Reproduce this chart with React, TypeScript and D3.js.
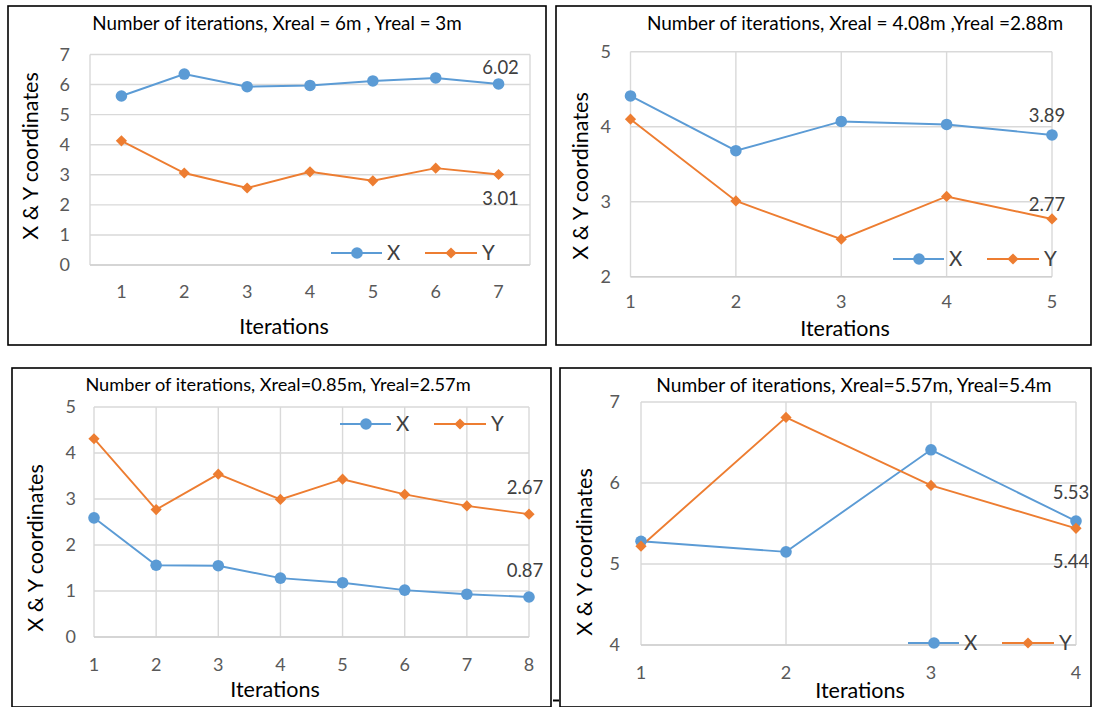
import React from "react";
import * as d3 from "d3";

// ---------- DATA ----------
const iterA = [1, 2, 3, 4, 5, 6, 7];
const xA = [5.62, 6.35, 5.93, 5.97, 6.12, 6.22, 6.02];
const yA = [4.13, 3.06, 2.56, 3.1, 2.8, 3.22, 3.01];
const yTicksA = [0, 1, 2, 3, 4, 5, 6, 7];
const titleA = "Number of iterations, Xreal = 6m , Yreal = 3m";

const iterB = [1, 2, 3, 4, 5];
const xB = [4.41, 3.68, 4.07, 4.03, 3.89];
const yB = [4.1, 3.01, 2.5, 3.07, 2.77];
const yTicksB = [2, 3, 4, 5];
const titleB = "Number of iterations, Xreal = 4.08m ,Yreal =2.88m";

const iterC = [1, 2, 3, 4, 5, 6, 7, 8];
const xC = [2.59, 1.56, 1.55, 1.28, 1.18, 1.02, 0.93, 0.87];
const yC = [4.31, 2.77, 3.54, 2.99, 3.43, 3.1, 2.85, 2.67];
const yTicksC = [0, 1, 2, 3, 4, 5];
const titleC = "Number of iterations, Xreal=0.85m, Yreal=2.57m";

const iterD = [1, 2, 3, 4];
const xD = [5.28, 5.15, 6.41, 5.53];
const yD = [5.22, 6.81, 5.97, 5.44];
const yTicksD = [4, 5, 6, 7];
const titleD = "Number of iterations, Xreal=5.57m, Yreal=5.4m";

const seriesNames = ["X", "Y"];
const xAxisTitle = "Iterations";
const yAxisTitle = "X & Y coordinates";

// ---------- STYLE ----------
const BLUE = "#5B9BD5";
const ORANGE = "#ED7D31";
const GRID = "#D9D9D9";
const TICK = "#595959";
const FONT = "Lato, 'Open Sans', sans-serif";

type PanelCfg = {
  box: [number, number, number, number];
  plot: { l: number; r: number; t: number; b: number };
  mode: "band" | "point";
  vGrid: boolean;
  cats: number[];
  xs: number[];
  ys: number[];
  yTicks: number[];
  title: string;
  titleXY: [number, number];
  titleSize: number;
  tickRight: number;
  xTickY: number;
  xTitleXY: [number, number];
  yTitleXY: [number, number];
  legend: [number, number];
  xLabDy: number;
  yLabDy: number;
  labDx: number;
};

const panels: PanelCfg[] = [
  {
    box: [8, 6, 538, 339],
    plot: { l: 90, r: 530, t: 54.5, b: 265 },
    mode: "band",
    vGrid: false,
    cats: iterA,
    xs: xA,
    ys: yA,
    yTicks: yTicksA,
    title: titleA,
    titleXY: [277, 30],
    titleSize: 18.8,
    tickRight: 70,
    xTickY: 292,
    xTitleXY: [284, 334],
    yTitleXY: [30, 156],
    legend: [331, 253],
    xLabDy: -17,
    yLabDy: 24,
    labDx: 2,
  },
  {
    box: [556, 6, 535, 339],
    plot: { l: 630.5, r: 1052, t: 51.7, b: 276.7 },
    mode: "point",
    vGrid: true,
    cats: iterB,
    xs: xB,
    ys: yB,
    yTicks: yTicksB,
    title: titleB,
    titleXY: [855, 30],
    titleSize: 19,
    tickRight: 611,
    xTickY: 302,
    xTitleXY: [845, 336],
    yTitleXY: [580, 176],
    legend: [893, 259],
    xLabDy: -20,
    yLabDy: -15,
    labDx: -5,
  },
  {
    box: [12, 368, 539, 339],
    plot: { l: 94, r: 529, t: 407, b: 637 },
    mode: "point",
    vGrid: true,
    cats: iterC,
    xs: xC,
    ys: yC,
    yTicks: yTicksC,
    title: titleC,
    titleXY: [278, 391],
    titleSize: 18.2,
    tickRight: 76,
    xTickY: 665,
    xTitleXY: [275, 697],
    yTitleXY: [35, 548],
    legend: [340, 424],
    xLabDy: -27,
    yLabDy: -27,
    labDx: -4,
  },
  {
    box: [560, 368, 531, 339],
    plot: { l: 641, r: 1076, t: 402, b: 645 },
    mode: "point",
    vGrid: true,
    cats: iterD,
    xs: xD,
    ys: yD,
    yTicks: yTicksD,
    title: titleD,
    titleXY: [854, 392],
    titleSize: 19.2,
    tickRight: 620,
    xTickY: 673,
    xTitleXY: [860, 698],
    yTitleXY: [584, 552],
    legend: [908, 643],
    xLabDy: -29,
    yLabDy: 33,
    labDx: -5,
  },
];

function Diamond({ x, y, r }: { x: number; y: number; r: number }) {
  const p = d3.symbol(d3.symbolSquare, (r * Math.SQRT2) ** 2)();
  return <path d={p || ""} transform={`translate(${x},${y}) rotate(45)`} fill={ORANGE} />;
}

function Panel({ cfg }: { cfg: PanelCfg }) {
  const { plot } = cfg;
  const yDom = d3.extent(cfg.yTicks) as [number, number];
  const y = d3.scaleLinear().domain(yDom).range([plot.b, plot.t]);
  let xc: (c: number) => number;
  if (cfg.mode === "band") {
    const b = d3.scaleBand<number>().domain(cfg.cats).range([plot.l, plot.r]);
    xc = (c) => (b(c) as number) + b.bandwidth() / 2;
  } else {
    const p = d3.scalePoint<number>().domain(cfg.cats).range([plot.l, plot.r]);
    xc = (c) => p(c) as number;
  }
  const line = d3
    .line<[number, number]>()
    .x((d) => xc(d[0]))
    .y((d) => y(d[1]));
  const ptsX = cfg.cats.map((c, i) => [c, cfg.xs[i]] as [number, number]);
  const ptsY = cfg.cats.map((c, i) => [c, cfg.ys[i]] as [number, number]);
  const last = cfg.cats.length - 1;
  const fmt = d3.format(".2f");
  const [bx, by, bw, bh] = cfg.box;
  const [lx, ly] = cfg.legend;
  return (
    <g>
      <rect x={bx} y={by} width={bw} height={bh} fill="#fff" stroke="#000" strokeWidth={1.6} />
      <text x={cfg.titleXY[0]} y={cfg.titleXY[1]} textAnchor="middle" fontSize={cfg.titleSize} fill="#000">
        {cfg.title}
      </text>
      {/* grid */}
      {cfg.yTicks.map((t) => (
        <line key={"h" + t} x1={plot.l} x2={plot.r} y1={y(t)} y2={y(t)} stroke={GRID} strokeWidth={1.4} />
      ))}
      {cfg.vGrid
        ? cfg.cats.map((c) => (
            <line key={"v" + c} x1={xc(c)} x2={xc(c)} y1={plot.t} y2={plot.b} stroke={GRID} strokeWidth={1.4} />
          ))
        : [plot.l, plot.r].map((v) => (
            <line key={"e" + v} x1={v} x2={v} y1={plot.t} y2={plot.b} stroke={GRID} strokeWidth={1.4} />
          ))}
      <line x1={plot.l} x2={plot.r} y1={plot.b} y2={plot.b} stroke="#D0D0D0" strokeWidth={1.6} />
      {/* y tick labels */}
      {cfg.yTicks.map((t) => (
        <text key={"yt" + t} x={cfg.tickRight} y={y(t)} dy="0.36em" textAnchor="end" fontSize={18} fill={TICK}>
          {t}
        </text>
      ))}
      {/* x tick labels */}
      {cfg.cats.map((c) => (
        <text key={"xt" + c} x={xc(c)} y={cfg.xTickY} dy="0.36em" textAnchor="middle" fontSize={18} fill={TICK}>
          {c}
        </text>
      ))}
      <text x={cfg.xTitleXY[0]} y={cfg.xTitleXY[1]} textAnchor="middle" fontSize={21.5} fill="#000">
        {xAxisTitle}
      </text>
      <text
        transform={`translate(${cfg.yTitleXY[0]},${cfg.yTitleXY[1]}) rotate(-90)`}
        textAnchor="middle"
        dy="0.36em"
        fontSize={21.5}
        fill="#000"
      >
        {yAxisTitle}
      </text>
      {/* series */}
      <path d={line(ptsX) || ""} fill="none" stroke={BLUE} strokeWidth={1.9} />
      <path d={line(ptsY) || ""} fill="none" stroke={ORANGE} strokeWidth={1.9} />
      {ptsX.map((d) => (
        <circle key={"cx" + d[0]} cx={xc(d[0])} cy={y(d[1])} r={5.8} fill={BLUE} />
      ))}
      {ptsY.map((d) => (
        <Diamond key={"dy" + d[0]} x={xc(d[0])} y={y(d[1])} r={5.6} />
      ))}
      {/* last value labels */}
      <text
        x={xc(cfg.cats[last]) + cfg.labDx}
        y={y(cfg.xs[last]) + cfg.xLabDy}
        dy="0.36em"
        textAnchor="middle"
        fontSize={18.5}
        fill="#404040"
      >
        {fmt(cfg.xs[last])}
      </text>
      <text
        x={xc(cfg.cats[last]) + cfg.labDx}
        y={y(cfg.ys[last]) + cfg.yLabDy}
        dy="0.36em"
        textAnchor="middle"
        fontSize={18.5}
        fill="#404040"
      >
        {fmt(cfg.ys[last])}
      </text>
      {/* legend */}
      <line x1={lx} x2={lx + 51} y1={ly} y2={ly} stroke={BLUE} strokeWidth={1.9} />
      <circle cx={lx + 26} cy={ly} r={5.8} fill={BLUE} />
      <text x={lx + 56} y={ly} dy="0.36em" fontSize={20.5} fill="#404040">
        {seriesNames[0]}
      </text>
      <line x1={lx + 94} x2={lx + 146} y1={ly} y2={ly} stroke={ORANGE} strokeWidth={1.9} />
      <Diamond x={lx + 120} y={ly} r={5.6} />
      <text x={lx + 151} y={ly} dy="0.36em" fontSize={20.5} fill="#404040">
        {seriesNames[1]}
      </text>
    </g>
  );
}

export default function App() {
  return (
    <svg
      width={1093}
      height={707}
      style={{ position: "absolute", left: 0, top: 0, background: "#fff" }}
      fontFamily={FONT}
    >
      <rect x={0} y={0} width={1093} height={707} fill="#fff" />
      {panels.map((p, i) => (
        <Panel key={i} cfg={p} />
      ))}
      <line x1={553} x2={559} y1={700.5} y2={700.5} stroke="#000" strokeWidth={2} />
    </svg>
  );
}
